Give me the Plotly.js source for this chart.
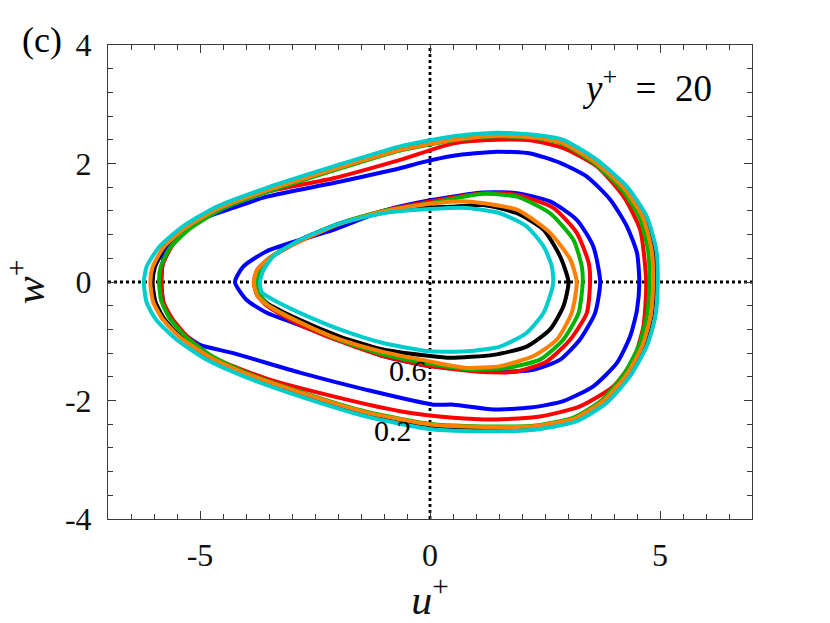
<!DOCTYPE html>
<html>
<head>
<meta charset="utf-8">
<script src="https://cdn.plot.ly/plotly-3.0.1.min.js"></script>
<style>html,body{margin:0;padding:0;background:#fff;}#plot{width:830px;height:623px;}</style>
</head>
<body>
<div id="plot"></div>
<script>
// ---- Data (u+, w+) ----
// Contour level 0.2 (outer loops)
const blackOuterU = [4.88, 4.85, 4.66, 4.24, 3.62, 2.90, 2.32, 1.45, 0.51, -0.65, -2.10, -3.52, -4.58, -5.28, -5.75, -5.98, -6.03, -5.97, -5.78, -5.40, -4.80, -4.02, -2.80, -1.38, 0.07, 1.45, 2.32, 3.17, 3.80, 4.30, 4.64, 4.82, 4.88];
const blackOuterW = [0, 0.54, 1.10, 1.60, 2.04, 2.37, 2.46, 2.49, 2.42, 2.25, 1.91, 1.56, 1.24, 0.92, 0.58, 0.25, 0, -0.33, -0.62, -0.94, -1.27, -1.55, -1.89, -2.22, -2.43, -2.47, -2.45, -2.31, -2.00, -1.56, -1.07, -0.56, 0];
const redOuterU = [4.70, 4.57, 4.21, 3.63, 2.90, 2.18, 1.45, 0.51, -0.65, -2.10, -3.55, -4.64, -5.15, -5.60, -5.82, -5.84, -5.80, -5.62, -5.25, -4.70, -3.55, -2.10, -0.65, 0.51, 1.45, 2.39, 3.26, 3.99, 4.42, 4.64, 4.70];
const redOuterW = [0, 0.88, 1.44, 1.95, 2.26, 2.39, 2.40, 2.34, 2.06, 1.75, 1.52, 1.22, 0.98, 0.62, 0.27, 0, -0.32, -0.60, -0.94, -1.28, -1.63, -1.93, -2.18, -2.29, -2.32, -2.27, -2.10, -1.76, -1.31, -0.75, 0];
const blueOuterU = [4.55, 4.50, 4.28, 3.92, 3.41, 2.83, 2.18, 1.45, 0.51, -0.22, -0.65, -2.10, -3.55, -4.28, -5.00, -5.51, -5.78, -5.84, -5.78, -5.58, -5.37, -5.00, -4.28, -2.83, -1.38, 0.07, 0.51, 1.38, 2.18, 2.90, 3.55, 4.06, 4.35, 4.50, 4.55];
const blueOuterW = [0, 0.49, 0.94, 1.39, 1.78, 2.01, 2.17, 2.20, 2.13, 2.01, 1.92, 1.67, 1.44, 1.25, 1.05, 0.77, 0.45, 0, -0.40, -0.66, -0.86, -1.06, -1.20, -1.53, -1.82, -2.07, -2.07, -2.15, -2.12, -2.01, -1.76, -1.37, -0.92, -0.47, 0];
const greenOuterU = [4.77, 4.74, 4.56, 4.16, 3.56, 2.86, 2.30, 1.45, 0.51, -0.65, -2.10, -3.50, -4.55, -5.22, -5.66, -5.86, -5.89, -5.84, -5.66, -5.30, -4.74, -4.00, -2.80, -1.38, 0.07, 1.45, 2.30, 3.12, 3.74, 4.22, 4.55, 4.72, 4.77];
const greenOuterW = [0, 0.53, 1.08, 1.57, 2.01, 2.34, 2.43, 2.46, 2.39, 2.22, 1.88, 1.53, 1.22, 0.90, 0.57, 0.24, 0, -0.32, -0.61, -0.93, -1.25, -1.53, -1.86, -2.19, -2.40, -2.44, -2.42, -2.29, -1.99, -1.55, -1.06, -0.55, 0];
const orangeOuterU = [4.85, 4.82, 4.63, 4.22, 3.60, 2.88, 2.30, 1.45, 0.51, -0.65, -2.10, -3.53, -4.60, -5.31, -5.80, -6.03, -6.08, -6.02, -5.82, -5.42, -4.80, -4.02, -2.80, -1.38, 0.07, 1.45, 2.30, 3.15, 3.78, 4.28, 4.62, 4.80, 4.85];
const orangeOuterW = [0, 0.53, 1.09, 1.58, 2.02, 2.35, 2.44, 2.47, 2.40, 2.23, 1.90, 1.55, 1.24, 0.92, 0.58, 0.25, 0, -0.33, -0.62, -0.94, -1.26, -1.54, -1.87, -2.20, -2.41, -2.45, -2.43, -2.30, -2.00, -1.56, -1.07, -0.56, 0];
const cyanOuterU = [4.95, 4.92, 4.71, 4.28, 3.63, 2.90, 2.32, 1.45, 0.51, -0.65, -2.10, -3.55, -4.64, -5.37, -5.88, -6.16, -6.22, -6.16, -5.95, -5.51, -4.86, -4.06, -2.83, -1.38, 0.07, 1.45, 2.32, 3.19, 3.84, 4.35, 4.71, 4.90, 4.95];
const cyanOuterW = [0, 0.54, 1.11, 1.61, 2.06, 2.40, 2.48, 2.52, 2.46, 2.29, 1.95, 1.59, 1.27, 0.94, 0.60, 0.26, 0, -0.35, -0.64, -0.97, -1.31, -1.59, -1.93, -2.27, -2.49, -2.52, -2.49, -2.35, -2.04, -1.59, -1.09, -0.58, 0];

// Contour level 0.6 (inner loops)
const blackInnerU = [3.01, 2.83, 2.47, 1.89, 1.16, 0.44, 0, -1.02, -1.96, -2.83, -3.45, -3.72, -3.81, -3.72, -3.55, -2.83, -1.96, -1.02, 0, 0.44, 1.38, 2.10, 2.61, 2.90, 3.01];
const blackInnerW = [0, 0.43, 0.88, 1.16, 1.30, 1.27, 1.26, 1.17, 0.99, 0.71, 0.42, 0.20, 0, -0.20, -0.35, -0.64, -0.92, -1.14, -1.25, -1.28, -1.23, -1.09, -0.80, -0.41, 0];
const redInnerU = [3.48, 3.45, 3.19, 2.68, 1.89, 1.16, 0, -1.02, -1.96, -2.83, -3.50, -3.76, -3.83, -3.76, -3.55, -2.83, -1.96, -1.02, 0, 1.16, 1.89, 2.54, 3.05, 3.41, 3.48];
const redInnerW = [0, 0.32, 0.83, 1.25, 1.47, 1.50, 1.36, 1.20, 0.98, 0.69, 0.40, 0.20, 0, -0.22, -0.40, -0.72, -1.00, -1.25, -1.42, -1.52, -1.51, -1.34, -0.97, -0.52, 0];
const blueInnerU = [3.70, 3.55, 3.19, 2.61, 1.89, 1.16, 0, -1.02, -2.10, -2.83, -3.55, -4.06, -4.24, -3.99, -3.55, -2.97, -1.96, -1.02, 0, 1.52, 2.25, 2.83, 3.26, 3.59, 3.70];
const blueInnerW = [0, 0.60, 1.05, 1.36, 1.50, 1.51, 1.38, 1.20, 0.88, 0.71, 0.52, 0.26, 0, -0.30, -0.52, -0.69, -0.98, -1.25, -1.42, -1.51, -1.48, -1.31, -0.97, -0.52, 0];
const greenInnerU = [3.32, 3.30, 3.12, 2.61, 1.89, 1.16, 0, -1.02, -1.96, -2.83, -3.50, -3.70, -3.76, -3.70, -3.55, -2.83, -1.96, -1.02, 0, 0.94, 1.67, 2.39, 2.90, 3.23, 3.32];
const greenInnerW = [0, 0.26, 0.71, 1.16, 1.44, 1.49, 1.33, 1.20, 0.99, 0.70, 0.40, 0.20, 0, -0.20, -0.37, -0.68, -0.98, -1.22, -1.38, -1.48, -1.45, -1.31, -0.97, -0.52, 0];
const orangeInnerU = [3.19, 3.05, 2.61, 1.89, 0.80, 0, -1.02, -1.96, -2.83, -3.50, -3.76, -3.83, -3.76, -3.55, -2.83, -1.96, -1.02, 0, 0.80, 1.52, 2.25, 2.76, 3.08, 3.19];
const orangeInnerW = [0, 0.38, 0.83, 1.22, 1.36, 1.32, 1.19, 0.98, 0.69, 0.40, 0.20, 0, -0.22, -0.38, -0.68, -0.97, -1.18, -1.34, -1.45, -1.42, -1.25, -0.97, -0.52, 0];
const cyanInnerU = [2.68, 2.65, 2.47, 2.10, 1.52, 0.80, 0, -1.02, -1.96, -2.83, -3.41, -3.62, -3.70, -3.66, -3.41, -2.83, -1.96, -1.02, 0, 0.80, 1.52, 2.10, 2.47, 2.65, 2.68];
const cyanInnerW = [0, 0.26, 0.60, 0.94, 1.16, 1.25, 1.23, 1.16, 0.99, 0.71, 0.43, 0.20, 0, -0.17, -0.30, -0.52, -0.80, -1.03, -1.17, -1.17, -1.09, -0.86, -0.52, -0.13, 0];

// Axes
const xTickVals = [-5, 0, 5];
const xTickText = ['-5', '0', '5'];
const yTickVals = [-4, -2, 0, 2, 4];
const yTickText = ['-4', '-2', '0', '2', '4'];
const xRange = [-7, 7];
const yRange = [-4, 4];
// contour labels
const labelText = ['0.6', '0.2'];
const labelU = [-0.48, -0.80];
const labelW = [-1.49, -2.51];

const series = [
  {name: 'black', color: '#000000', outer: [blackOuterU, blackOuterW], inner: [blackInnerU, blackInnerW]},
  {name: 'blue', color: '#0000ff', outer: [blueOuterU, blueOuterW], inner: [blueInnerU, blueInnerW]},
  {name: 'red', color: '#ff0000', outer: [redOuterU, redOuterW], inner: [redInnerU, redInnerW]},
  {name: 'green', color: '#00b300', outer: [greenOuterU, greenOuterW], inner: [greenInnerU, greenInnerW]},
  {name: 'orange', color: '#ff8000', outer: [orangeOuterU, orangeOuterW], inner: [orangeInnerU, orangeInnerW]},
  {name: 'cyan', color: '#00cccc', outer: [cyanOuterU, cyanOuterW], inner: [cyanInnerU, cyanInnerW]}
];

const traces = [];
// dotted zero lines
traces.push({x: xRange, y: [0, 0], mode: 'lines', line: {color: '#000', width: 2.8, dash: 'dot'}, hoverinfo: 'skip'});
traces.push({x: [0, 0], y: yRange, mode: 'lines', line: {color: '#000', width: 2.8, dash: 'dot'}, hoverinfo: 'skip'});
series.forEach(s => {
  traces.push({x: s.outer[0], y: s.outer[1], mode: 'lines', name: s.name, line: {color: s.color, width: 4, shape: 'spline', smoothing: 0.6}});
  traces.push({x: s.inner[0], y: s.inner[1], mode: 'lines', name: s.name, line: {color: s.color, width: 4, shape: 'spline', smoothing: 0.6}});
});

const serif = 'Liberation Serif, Times New Roman, serif';
const annotations = labelText.map((t, i) => ({
  x: labelU[i], y: labelW[i], xref: 'x', yref: 'y', xanchor: 'center', yanchor: 'middle', text: t, showarrow: false,
  font: {family: serif, size: 30, color: '#000'}
}));
annotations.push({x: 4.72, y: 3.31, xref: 'x', yref: 'y', xanchor: 'center', yanchor: 'middle',
  text: '<i>y</i><sup>+</sup>&nbsp; = &nbsp;20', showarrow: false,
  font: {family: serif, size: 37, color: '#000'}});
annotations.push({x: -0.102, y: 1.01, xref: 'paper', yref: 'paper', xanchor: 'center', yanchor: 'middle',
  text: '(c)', showarrow: false, font: {family: serif, size: 36, color: '#000'}});

const axisCommon = {
  showgrid: false, zeroline: false, showline: true, linecolor: '#3a3a3a', linewidth: 1,
  mirror: 'ticks', ticks: 'inside', ticklen: 8, tickcolor: '#3a3a3a', tickwidth: 1,
  tickfont: {family: serif, size: 32, color: '#111'}, fixedrange: true
};

const layout = {
  width: 830, height: 623,
  margin: {l: 108, r: 78, t: 45, b: 104},
  paper_bgcolor: '#fff', plot_bgcolor: '#fff',
  showlegend: false,
  xaxis: Object.assign({}, axisCommon, {
    range: xRange, tickmode: 'array', tickvals: xTickVals, ticktext: xTickText,
    minor: {dtick: 0.5, tick0: 0, ticks: 'inside', ticklen: 5, tickcolor: '#3a3a3a', showgrid: false},
    ticklabelstandoff: 8,
    title: {text: '<i>u</i><sup>+</sup>', font: {family: serif, size: 42, color: '#111'}, standoff: 6}
  }),
  yaxis: Object.assign({}, axisCommon, {
    range: yRange, tickmode: 'array', tickvals: yTickVals, ticktext: yTickText,
    minor: {dtick: 0.4, tick0: 0, ticks: 'inside', ticklen: 5, tickcolor: '#3a3a3a', showgrid: false},
    ticklabelstandoff: 9,
    title: {text: '<i>w</i><sup>+</sup>', font: {family: serif, size: 42, color: '#111'}, standoff: 18}
  }),
  annotations: annotations
};

Plotly.newPlot('plot', traces, layout, {staticPlot: true, displayModeBar: false});
</script>
</body>
</html>
